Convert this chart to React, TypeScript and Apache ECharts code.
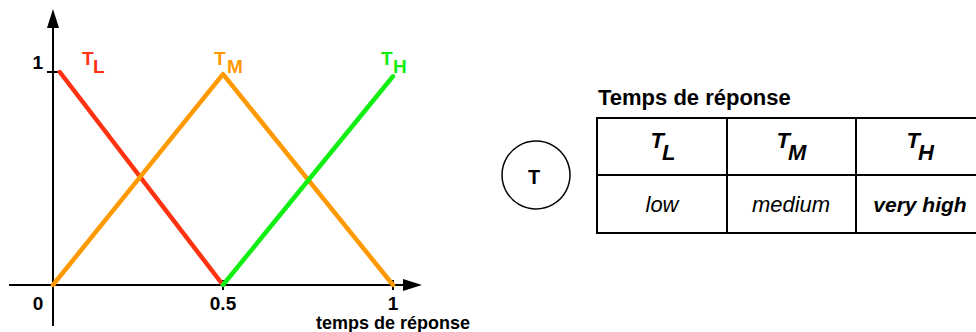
import React, { useEffect, useRef } from "react";
import * as echarts from "echarts";

// ---- data ----
const lowX = [0.02, 0.5];
const lowY = [1, 0];
const medX = [0, 0.5, 1];
const medY = [0, 0.99, 0];
const highX = [0.5, 1];
const highY = [0, 0.98];
const seriesNames = ["TL", "TM", "TH"];
const subscripts = ["L", "M", "H"];
const tableCaption = "Temps de réponse";
const tableRow2 = ["low", "medium", "very high"];
const xAxisTitle = "temps de réponse";
const nodeLabel = "T";

const RED = "#ff3311";
const ORANGE = "#ff9900";
const GREEN = "#11ee11";
const FONT = '"Liberation Sans", Arial, Helvetica, sans-serif';

function pairs(xs: number[], ys: number[]) {
  return xs.map((x, i) => [x, ys[i]]);
}

export default function App() {
  const ref = useRef<HTMLDivElement>(null);
  useEffect(() => {
    if (!ref.current) return;
    const chart = echarts.init(ref.current, null, { renderer: "svg" });
    const colors = [RED, ORANGE, GREEN];
    const labelPos = [
      [82, 93],
      [214, 227],
      [381, 393],
    ];
    const graphics: any[] = [];
    // axes with arrows
    graphics.push(
      { type: "line", shape: { x1: 53, y1: 326, x2: 53, y2: 22 }, style: { stroke: "#000", lineWidth: 2 } },
      { type: "polygon", shape: { points: [[53, 9], [47, 28], [59, 28]] }, style: { fill: "#000" } },
      { type: "line", shape: { x1: 9, y1: 285, x2: 410, y2: 285 }, style: { stroke: "#000", lineWidth: 2 } },
      { type: "polygon", shape: { points: [[422, 285], [403, 279], [403, 291]] }, style: { fill: "#000" } }
    );
    // series labels
    seriesNames.forEach((_, i) => {
      graphics.push({
        type: "text",
        x: labelPos[i][0],
        y: 58.5,
        style: { text: "T", font: `bold 19px ${FONT}`, fill: colors[i], align: "left", verticalAlign: "middle" },
      });
      graphics.push({
        type: "text",
        x: labelPos[i][1],
        y: 66,
        style: { text: subscripts[i], font: `bold 19px ${FONT}`, fill: colors[i], align: "left", verticalAlign: "middle" },
      });
    });
    // x axis title
    graphics.push({
      type: "text",
      x: 393,
      y: 322.5,
      style: {
        text: xAxisTitle,
        font: `bold 18px ${FONT}`,
        lineHeight: 18,
        fill: "#000",
        align: "center",
        verticalAlign: "middle",
      },
    });
    // circle node
    graphics.push(
      { type: "circle", shape: { cx: 536, cy: 175, r: 34 }, style: { fill: "#fff", stroke: "#000", lineWidth: 1.5 } },
      {
        type: "text",
        x: 534,
        y: 176.5,
        style: { text: nodeLabel, font: `bold 20px ${FONT}`, fill: "#000", align: "center", verticalAlign: "middle" },
      }
    );
    // table
    const tL = 597, tR = 990, tT = 118, tM = 175, tB = 233;
    const cols = [597, 727, 856, 990];
    graphics.push({
      type: "text",
      x: 598,
      y: 97,
      style: { text: tableCaption, font: `bold 22px ${FONT}`, fill: "#000", align: "left", verticalAlign: "middle" },
    });
    graphics.push(
      { type: "rect", shape: { x: tL, y: tT, width: tR - tL, height: tB - tT }, style: { fill: "none", stroke: "#000", lineWidth: 2 } },
      { type: "line", shape: { x1: tL, y1: tM, x2: tR, y2: tM }, style: { stroke: "#000", lineWidth: 2 } },
      { type: "line", shape: { x1: cols[1], y1: tT, x2: cols[1], y2: tB }, style: { stroke: "#000", lineWidth: 2 } },
      { type: "line", shape: { x1: cols[2], y1: tT, x2: cols[2], y2: tB }, style: { stroke: "#000", lineWidth: 2 } }
    );
    const tRight = [664, 790, 920];
    subscripts.forEach((s, i) => {
      graphics.push({
        type: "text",
        x: tRight[i],
        y: 140,
        style: { text: "T", font: `italic bold 22px ${FONT}`, fill: "#000", align: "right", verticalAlign: "middle" },
      });
      graphics.push({
        type: "text",
        x: tRight[i] - 2,
        y: 152,
        style: { text: s, font: `italic bold 22px ${FONT}`, fill: "#000", align: "left", verticalAlign: "middle" },
      });
    });
    const row2X = [662, 791, 920];
    const row2Size = [22, 22, 21];
    tableRow2.forEach((t, i) => {
      graphics.push({
        type: "text",
        x: row2X[i],
        y: 204,
        style: {
          text: t,
          font: `italic ${i === 2 ? "bold " : ""}${row2Size[i]}px ${FONT}`,
          fill: "#000",
          align: "center",
          verticalAlign: "middle",
        },
      });
    });

    chart.setOption({
      animation: false,
      grid: { left: 53, right: 583, top: 72, bottom: 47 },
      xAxis: [
        {
          type: "value",
          min: 0,
          max: 1,
          interval: 0.5,
          splitLine: { show: false },
          axisLine: { show: false },
          axisTick: { show: false },
          axisLabel: {
            margin: 9,
            fontFamily: FONT,
            fontWeight: "bold",
            fontSize: 19,
            lineHeight: 19,
            color: "#000",
            formatter: (v: number) => (v === 0 ? "{z|0}" : String(v)),
            rich: {
              z: { fontFamily: FONT, fontWeight: "bold", fontSize: 19, lineHeight: 19, color: "#000", padding: [0, 30, 0, 0] },
            },
          },
        },
        {
          type: "value",
          min: 0,
          max: 1,
          interval: 0.5,
          position: "bottom",
          offset: -5,
          splitLine: { show: false },
          axisLine: { show: false },
          axisLabel: { show: false },
          axisTick: { show: true, length: 10, lineStyle: { color: "#000", width: 2 } },
        },
      ],
      yAxis: [
        {
          type: "value",
          min: 0,
          max: 1,
          interval: 1,
          splitLine: { show: false },
          axisLine: { show: false },
          axisTick: { show: false },
          axisLabel: {
            margin: 10,
            fontFamily: FONT,
            fontWeight: "bold",
            fontSize: 19,
            color: "#000",
            verticalAlign: "bottom",
            formatter: (v: number) => (v === 1 ? "1" : ""),
          },
        },
        {
          type: "value",
          min: 0,
          max: 1,
          interval: 1,
          position: "left",
          offset: -7,
          splitLine: { show: false },
          axisLine: { show: false },
          axisLabel: { show: false },
          axisTick: { show: true, length: 13, lineStyle: { color: "#000", width: 2 } },
        },
      ],
      series: [
        { name: seriesNames[0], type: "line", data: pairs(lowX, lowY), color: RED },
        { name: seriesNames[1], type: "line", data: pairs(medX, medY), color: ORANGE },
        { name: seriesNames[2], type: "line", data: pairs(highX, highY), color: GREEN },
      ].map((s) => ({
        ...s,
        showSymbol: false,
        symbol: "none",
        lineStyle: { width: 4.5, color: s.color, cap: "round", join: "round" },
        z: 3,
      })),
      graphic: graphics,
    });
    return () => chart.dispose();
  }, []);
  return (
    <div
      ref={ref}
      style={{ position: "fixed", left: 0, top: 0, width: 976, height: 332, background: "#fff" }}
    />
  );
}
